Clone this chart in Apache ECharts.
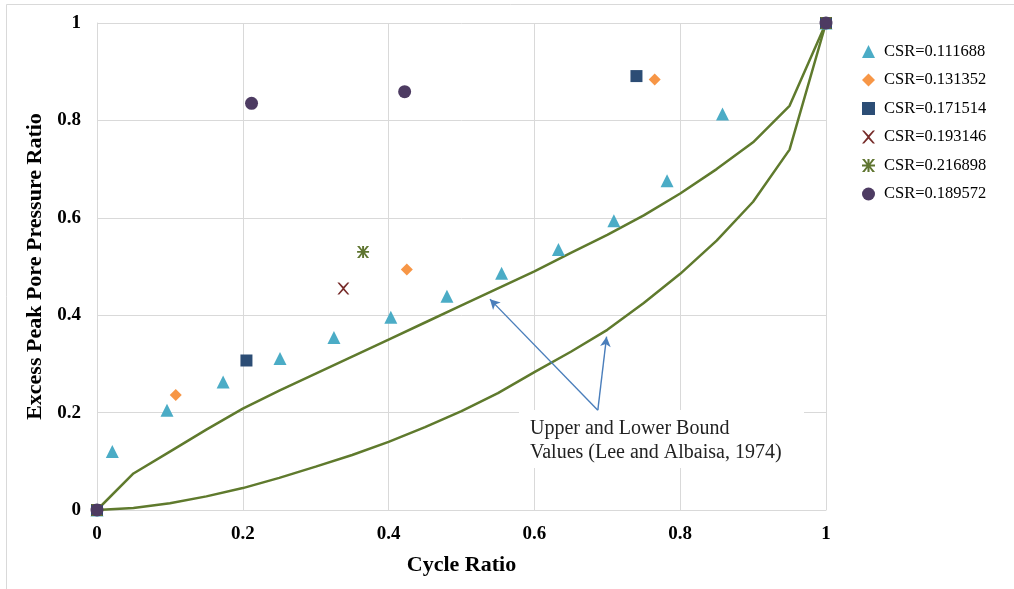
<!DOCTYPE html>
<html>
<head>
<meta charset="utf-8">
<script src="https://cdn.jsdelivr.net/npm/echarts@6/dist/echarts.min.js"></script>
<style>
  html, body { margin: 0; padding: 0; background: #fff; }
  #chart { width: 1014px; height: 589px; }
</style>
</head>
<body>
<div id="chart"></div>
<script>
// ── Data ──────────────────────────────────────────────────────────────────────
// Bound curves (Lee and Albaisa, 1974), sampled every 0.05 of cycle ratio.
const boundX     = [0, 0.05, 0.1, 0.15, 0.2, 0.25, 0.3, 0.35, 0.4, 0.45, 0.5,
                    0.55, 0.6, 0.65, 0.7, 0.75, 0.8, 0.85, 0.9, 0.95, 1];
const upperBound = [0, 0.075, 0.12, 0.165, 0.208, 0.245, 0.28, 0.315, 0.35, 0.385, 0.42,
                    0.455, 0.49, 0.528, 0.565, 0.605, 0.65, 0.70, 0.755, 0.83, 1];
const lowerBound = [0, 0.004, 0.014, 0.028, 0.045, 0.066, 0.089, 0.113, 0.14, 0.17, 0.203,
                    0.24, 0.283, 0.325, 0.37, 0.425, 0.485, 0.553, 0.633, 0.74, 1];

// Test points, [cycle ratio, pore pressure ratio]
const csr111688 = [[0, 0], [0.021, 0.12], [0.096, 0.205], [0.173, 0.263], [0.251, 0.311],
                   [0.325, 0.354], [0.403, 0.396], [0.48, 0.439], [0.555, 0.486],
                   [0.633, 0.535], [0.709, 0.594], [0.782, 0.676], [0.858, 0.813], [1, 1]];
const csr131352 = [[0, 0], [0.108, 0.236], [0.425, 0.494], [0.765, 0.884], [1, 1]];
const csr171514 = [[0, 0], [0.205, 0.307], [0.74, 0.891], [1, 1]];
const csr193146 = [[0, 0], [0.338, 0.455], [1, 1]];
const csr216898 = [[0, 0], [0.365, 0.530], [1, 1]];
const csr189572 = [[0, 0], [0.212, 0.835], [0.422, 0.859], [1, 1]];

const xTicks = [0, 0.2, 0.4, 0.6, 0.8, 1];
const yTicks = [0, 0.2, 0.4, 0.6, 0.8, 1];

const noteLines = ['Upper and Lower Bound', 'Values (Lee and Albaisa, 1974)'];

// ── Styling ───────────────────────────────────────────────────────────────────
const SERIF = '"Liberation Serif", "Times New Roman", serif';
const GRID_C = '#d9d9d9';
const LINE_C = '#5f7a2d';
const ARROW_C = '#4a7ebb';

// Path symbols for the x and star markers (Excel-style)
const crossPath = 'path://M0,0 L1.6,0 L5,3.6 L8.4,0 L10,0 L5.8,5 L10,10 L8.4,10 L5,6.4 L1.6,10 L0,10 L4.2,5 Z';
const starPath  = 'path://M0,0 L2,0 L4.2,3 L4.2,0 L5.8,0 L5.8,3 L8,0 L10,0 L6.6,4.2 L10,4.2 L10,5.8 L6.6,5.8 L10,10 L8,10 L5.8,7 L5.8,10 L4.2,10 L4.2,7 L2,10 L0,10 L3.4,5.8 L0,5.8 L0,4.2 L3.4,4.2 Z';

const pointSeries = [
  { name: 'CSR=0.111688', data: csr111688, symbol: 'triangle', size: 13, color: '#4bacc6' },
  { name: 'CSR=0.131352', data: csr131352, symbol: 'diamond',  size: 12, color: '#f79646' },
  { name: 'CSR=0.171514', data: csr171514, symbol: 'rect',     size: 12, color: '#2c4d75' },
  { name: 'CSR=0.193146', data: csr193146, symbol: crossPath,  size: 12, color: '#772c2a' },
  { name: 'CSR=0.216898', data: csr216898, symbol: starPath,   size: 12, color: '#5f7530' },
  { name: 'CSR=0.189572', data: csr189572, symbol: 'circle',   size: 13, color: '#4d3b62' },
];

const series = [
  {
    name: 'upper', type: 'line', data: boundX.map((x, i) => [x, upperBound[i]]),
    symbol: 'none', lineStyle: { color: LINE_C, width: 2.5 }, z: 2, silent: true,
    markLine: {
      silent: true, symbol: ['none', 'arrow'], symbolSize: [8, 10],
      lineStyle: { color: ARROW_C, width: 1.4, type: 'solid' },
      label: { show: false },
      data: [
        [{ coord: [0.687, 0.205] }, { coord: [0.539, 0.433] }],
        [{ coord: [0.687, 0.205] }, { coord: [0.699, 0.356] }],
      ],
    },
  },
  {
    name: 'lower', type: 'line', data: boundX.map((x, i) => [x, lowerBound[i]]),
    symbol: 'none', lineStyle: { color: LINE_C, width: 2.5 }, z: 2, silent: true,
  },
  ...pointSeries.map(s => ({
    name: s.name, type: 'scatter', data: s.data, symbol: s.symbol, symbolSize: s.size,
    itemStyle: { color: s.color, opacity: 1 }, z: 3,
  })),
];

const chart = echarts.init(document.getElementById('chart'), null, { renderer: 'canvas' });

chart.setOption({
  backgroundColor: '#fff',
  animation: false,
  grid: { left: 97, right: 188, top: 23, bottom: 79 },
  xAxis: {
    type: 'value', min: 0, max: 1, interval: 0.2,
    name: 'Cycle Ratio', nameLocation: 'middle', nameGap: 44,
    nameTextStyle: { fontFamily: SERIF, fontWeight: 'bold', fontSize: 22, color: '#000' },
    axisLine: { show: true, lineStyle: { color: GRID_C } },
    axisTick: { show: false },
    axisLabel: {
      fontFamily: SERIF, fontWeight: 'bold', fontSize: 19, color: '#000', margin: 15,
      formatter: v => xTicks.includes(+v.toFixed(1)) ? String(+v.toFixed(1)) : '',
    },
    splitLine: { lineStyle: { color: GRID_C } },
  },
  yAxis: {
    type: 'value', min: 0, max: 1, interval: 0.2,
    name: 'Excess Peak Pore Pressure Ratio', nameLocation: 'middle', nameGap: 51,
    nameTextStyle: { fontFamily: SERIF, fontWeight: 'bold', fontSize: 22, color: '#000' },
    axisLine: { show: true, lineStyle: { color: GRID_C } },
    axisTick: { show: false },
    axisLabel: {
      fontFamily: SERIF, fontWeight: 'bold', fontSize: 19, color: '#000', margin: 16,
      formatter: v => yTicks.includes(+v.toFixed(1)) ? String(+v.toFixed(1)) : '',
    },
    splitLine: { lineStyle: { color: GRID_C } },
  },
  legend: {
    orient: 'vertical', left: 857, top: 38, itemGap: 11.5,
    itemWidth: 13, itemHeight: 13,
    data: pointSeries.map(s => s.name),
    textStyle: { fontFamily: SERIF, fontSize: 16.5, color: '#000', padding: [0, 0, 0, 4] },
  },
  graphic: [
    // outer chart frame (top and left only are visible)
    { type: 'line', shape: { x1: 6.5, y1: 4.5, x2: 1014, y2: 4.5 }, style: { stroke: GRID_C, lineWidth: 1 }, silent: true },
    { type: 'line', shape: { x1: 6.5, y1: 4.5, x2: 6.5, y2: 589 }, style: { stroke: GRID_C, lineWidth: 1 }, silent: true },
    // annotation box
    { type: 'rect', shape: { x: 519, y: 410, width: 285, height: 58 }, style: { fill: '#fff' }, z: 1, silent: true },
    {
      type: 'text', left: 530, top: 417, z: 5, silent: true,
      style: { text: noteLines.join('\n'), font: '20px ' + SERIF, fill: '#222', lineHeight: 24 },
    },
  ],
  series,
});
</script>
</body>
</html>
